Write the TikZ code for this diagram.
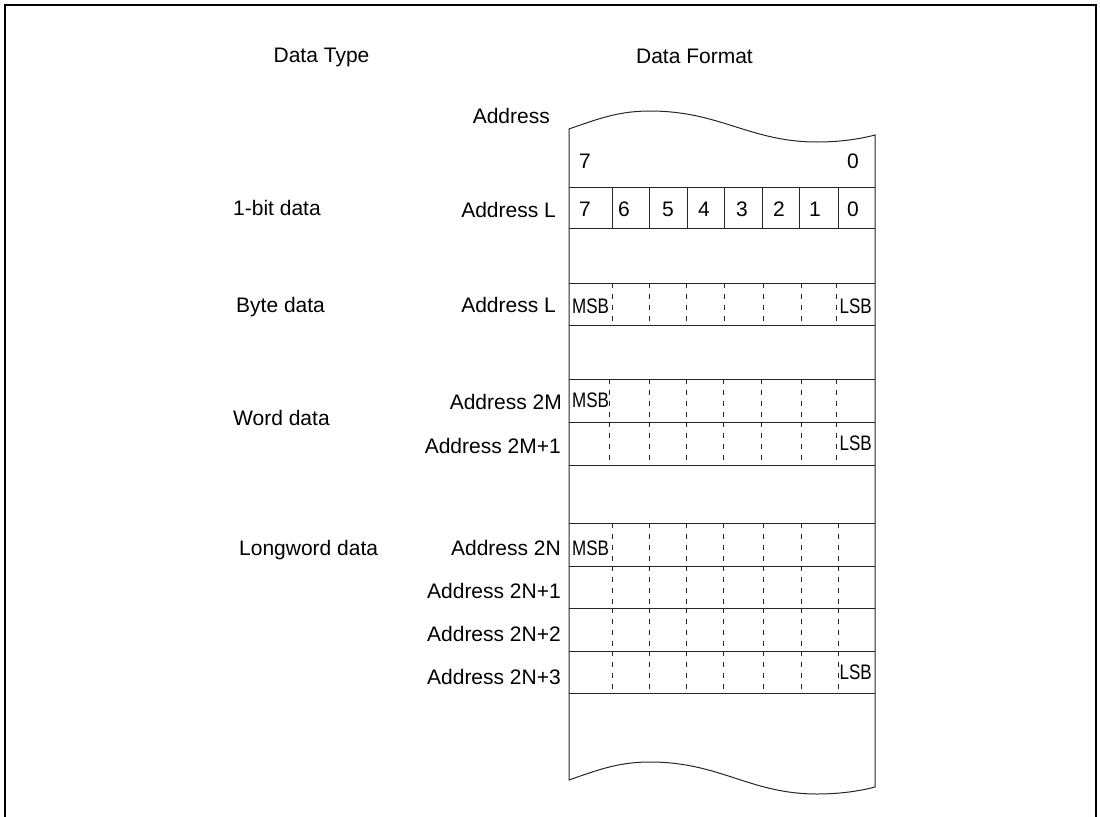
\documentclass[tikz,border=0pt]{standalone}
\usepackage{fontspec}
\usepackage{graphicx}
\setmainfont{Liberation Sans}
\tikzset{
  lbl/.style={inner sep=0pt, font=\fontsize{21}{25}\selectfont},
  tbl/.style={line width=1pt, draw=black!85},
  dsh/.style={line width=1pt, draw=black!85, dash pattern=on 5pt off 6pt},
  frame/.style={line width=2pt, draw=black},
}
\newcommand{\nb}[1]{\scalebox{0.81}[1]{#1}}
\begin{document}
\begin{tikzpicture}[x=1pt,y=-1pt]
\useasboundingbox (0,0) rectangle (1101,817);
% outer frame
\draw[frame] (5,817) -- (5,5) -- (1096,5) -- (1096,817);

% headings
\node[lbl, anchor=base] (hType) at (321.5,62) {Data Type};
\node[lbl, anchor=base] (hFmt) at (694.5,63) {Data Format};

% table outline with wavy ends
\draw[tbl] (875,135) .. controls (860,139) and (840,142) .. (817,142)
  .. controls (750,142) and (720,111) .. (650,111)
  .. controls (620,111) and (600,118) .. (569,129)
  -- (569,780)
  .. controls (600,769) and (620,762) .. (650,762)
  .. controls (720,762) and (750,794) .. (817,794)
  .. controls (840,794) and (860,791) .. (875,787)
  -- cycle;

% horizontal row lines
\foreach \yy in {187,228,283,325,379,422,465,523,566,608,651,693}
  \draw[tbl] (569,\yy) -- (875,\yy);

% bit row solid separators
\foreach \xx in {612,649,687,724,762,799,838}
  \draw[tbl] (\xx,187) -- (\xx,228);

% dashed separators
\foreach \xx in {612,649,686,724,763,801,836}
  \draw[dsh] (\xx,283) -- (\xx,325);
\foreach \xx in {609,649,686,723,761,801,836}{
  \draw[dsh] (\xx,379) -- (\xx,422);
  \draw[dsh] (\xx,422) -- (\xx,465);}
\foreach \xx in {612,649,686,723,763,801,838}{
  \draw[dsh] (\xx,523) -- (\xx,566);
  \draw[dsh] (\xx,566) -- (\xx,608);
  \draw[dsh] (\xx,608) -- (\xx,651);
  \draw[dsh] (\xx,651) -- (\xx,693);}

% top row bit numbers
\node[lbl, anchor=base] (t7) at (585,168) {7};
\node[lbl, anchor=base] (t0) at (853,168) {0};

% bit row digits
\node[lbl, anchor=base] (b7) at (585,216) {7};
\node[lbl, anchor=base] (b6) at (624,216) {6};
\node[lbl, anchor=base] (b5) at (668,216) {5};
\node[lbl, anchor=base] (b4) at (704,216) {4};
\node[lbl, anchor=base] (b3) at (742,216) {3};
\node[lbl, anchor=base] (b2) at (779,216) {2};
\node[lbl, anchor=base] (b1) at (815,216) {1};
\node[lbl, anchor=base] (b0) at (853,216) {0};

% MSB / LSB
\node[lbl, anchor=base west] (m1) at (572,313) {\nb{MSB}};
\node[lbl, anchor=base east] (l1) at (872,313) {\nb{LSB}};
\node[lbl, anchor=base west] (m2) at (572,407) {\nb{MSB}};
\node[lbl, anchor=base east] (l2) at (872,450) {\nb{LSB}};
\node[lbl, anchor=base west] (m3) at (572,555) {\nb{MSB}};
\node[lbl, anchor=base east] (l3) at (872,679) {\nb{LSB}};

% data type labels
\node[lbl, anchor=base west] (d1) at (233,215) {1-bit data};
\node[lbl, anchor=base west] (d2) at (236,312) {Byte data};
\node[lbl, anchor=base west] (d3) at (233,425) {Word data};
\node[lbl, anchor=base west] (d4) at (239,555) {Longword data};

% address labels
\node[lbl, anchor=base east] (a0) at (550,123) {Address};
\node[lbl, anchor=base east] (a1) at (556,217) {Address L};
\node[lbl, anchor=base east] (a2) at (556,312) {Address L};
\node[lbl, anchor=base east] (a3) at (562,409) {Address 2M};
\node[lbl, anchor=base east] (a4) at (561,453) {Address 2M+1};
\node[lbl, anchor=base east] (a5) at (561,555) {Address 2N};
\node[lbl, anchor=base east] (a6) at (561,598) {Address 2N+1};
\node[lbl, anchor=base east] (a7) at (561,641) {Address 2N+2};
\node[lbl, anchor=base east] (a8) at (561,684) {Address 2N+3};
\end{tikzpicture}
\end{document}
